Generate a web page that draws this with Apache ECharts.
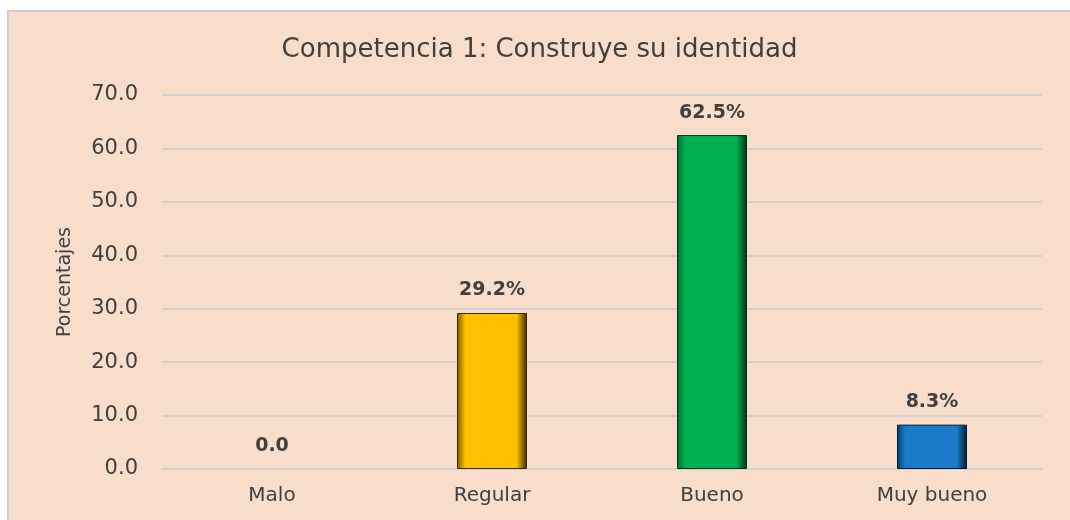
<!DOCTYPE html>
<html>
<head>
<meta charset="utf-8">
<script src="https://cdn.jsdelivr.net/npm/echarts@6/dist/echarts.min.js"></script>
<style>
  body { margin: 0; background: #ffffff; }
  #chart {
    position: absolute; left: 7px; top: 10px;
    width: 1061px; height: 508px;
    border: 2px solid #cfcfcf; border-right: none; border-bottom: none;
    background: #f8ddcb;
  }
</style>
</head>
<body>
<div id="chart"></div>
<script>
// datos del grafico
var categorias = ["Malo", "Regular", "Bueno", "Muy bueno"];
var porcentajes = [0.0, 29.2, 62.5, 8.3];
var etiquetas = ["0.0", "29.2%", "62.5%", "8.3%"];
var colores = [
  ["#7a5a00", "#ffc000", "#3a2a00"],
  ["#7a5a00", "#ffc000", "#3a2a00"],
  ["#006b33", "#00b050", "#003318"],
  ["#003e6b", "#1a7cc8", "#001a30"]
];
var fuente = "DejaVu Sans";

var myChart = echarts.init(document.getElementById("chart"));

var barras = [];
for (var i = 0; i < porcentajes.length; i++) {
  barras.push({
    value: porcentajes[i],
    itemStyle: {
      color: new echarts.graphic.LinearGradient(0, 0, 1, 0, [
        { offset: 0, color: colores[i][0] },
        { offset: 0.12, color: colores[i][1] },
        { offset: 0.85, color: colores[i][1] },
        { offset: 1, color: colores[i][2] }
      ]),
      borderColor: colores[i][2],
      borderWidth: porcentajes[i] > 0 ? 1 : 0
    },
    label: { formatter: etiquetas[i] }
  });
}

myChart.setOption({
  animation: false,
  title: {
    text: "Competencia 1: Construye su identidad",
    left: "center",
    top: 20,
    textStyle: { fontFamily: fuente, fontSize: 26, fontWeight: "normal", color: "#404040" }
  },
  grid: { left: 153, right: 28, top: 83, bottom: 51 },
  xAxis: {
    type: "category",
    data: categorias,
    axisTick: { show: false },
    axisLine: { lineStyle: { color: "#d0d0d0", width: 2 } },
    axisLabel: { margin: 17, fontFamily: fuente, fontSize: 20, color: "#404040" }
  },
  yAxis: {
    type: "value",
    min: 0, max: 70, interval: 10,
    name: "Porcentajes",
    nameLocation: "middle",
    nameGap: 87,
    nameRotate: 90,
    nameTextStyle: { fontFamily: fuente, fontSize: 19, color: "#404040" },
    axisLabel: {
      margin: 24, fontFamily: fuente, fontSize: 21, color: "#404040",
      formatter: function (v) { return v.toFixed(1); }
    },
    splitLine: { lineStyle: { color: "#d0d0d0", width: 2 } }
  },
  series: [{
    type: "bar",
    data: barras,
    barWidth: 70,
    label: {
      show: true, position: "top", distance: 13,
      fontFamily: fuente, fontSize: 19, fontWeight: "bold", color: "#404040"
    }
  }]
});
</script>
</body>
</html>
